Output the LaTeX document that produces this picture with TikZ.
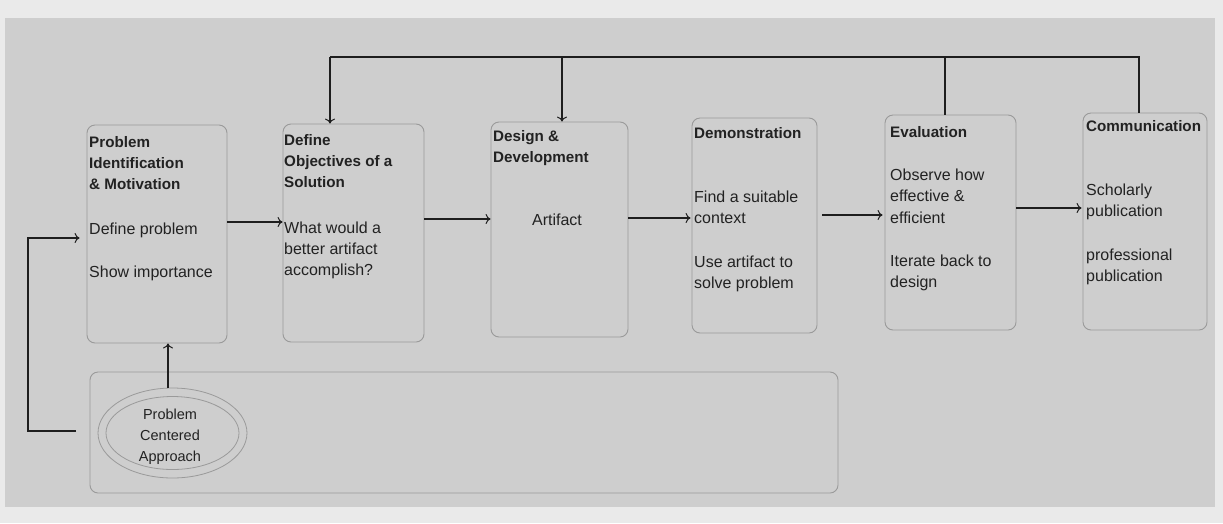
\documentclass[tikz,border=0pt]{standalone}
\usepackage{fontspec}
\setmainfont{Liberation Sans}
\usetikzlibrary{arrows.meta,shapes.geometric}

\definecolor{paper}{HTML}{EAEAEA}
\definecolor{panel}{HTML}{CECECE}
\definecolor{rim}{HTML}{9A9A9A}
\definecolor{ink}{HTML}{1E1E1E}
\definecolor{txtc}{HTML}{222222}

% bold stage heading
\newcommand\hd[1]{{\fontsize{15.2}{21}\selectfont\bfseries #1}}

\tikzset{
  stage/.style={draw=rim, line width=0.9pt, rounded corners=8pt, inner sep=0pt},
  txt/.style={inner sep=0pt, align=left, text=txtc, anchor=north west,
              font=\fontsize{16}{21.3}\selectfont},
  wire/.style={draw=ink, line width=1.1pt},
  flow/.style={wire, -{To[length=5pt,width=10pt,line width=1pt]}},
  oval/.style={ellipse, draw=rim, line width=0.8pt, inner sep=0pt},
}

\begin{document}
\begin{tikzpicture}[x=1pt,y=-1pt]
  % page and grey panel
  \fill[paper] (0,0) rectangle (1223,523);
  \fill[panel] (5,18) rectangle (1215,507);
  \useasboundingbox (0,0) rectangle (1223,523);

  % six stage boxes
  \node[stage, minimum width=140pt, minimum height=218pt] (b1) at (157,234) {};
  \node[stage, minimum width=141pt, minimum height=218pt] (b2) at (353.5,233) {};
  \node[stage, minimum width=137pt, minimum height=215pt] (b3) at (559.5,229.5) {};
  \node[stage, minimum width=125pt, minimum height=215pt] (b4) at (754.5,225.5) {};
  \node[stage, minimum width=131pt, minimum height=215pt] (b5) at (950.5,222.5) {};
  \node[stage, minimum width=124pt, minimum height=217pt] (b6) at (1145,221.5) {};

  % box contents
  \node[txt] (t1) at (89,136) {\hd{Problem}\\\hd{Identification}\\\hd{\& Motivation}\\[23pt]Define problem\\[22pt]Show importance};
  \node[txt] (t2) at (284,134) {\hd{Define}\\\hd{Objectives of a}\\\hd{Solution}\\[24pt]What would a\\better artifact\\accomplish?};
  \node[txt] (t3) at (493,130) {\hd{Design \&}\\\hd{Development}};
  \node[txt, anchor=center] (t3b) at (557,220) {Artifact};
  \node[txt] (t4) at (694,127) {\hd{Demonstration}\\[43pt]Find a suitable\\context\\[22pt]Use artifact to\\solve problem};
  \node[txt] (t5) at (890,126) {\hd{Evaluation}\\[22pt]Observe how\\effective \&\\efficient\\[22pt]Iterate back to\\design};
  \node[txt] (t6) at (1086,120) {\hd{Communication}\\[43pt]Scholarly\\publication\\[22pt]professional\\publication};

  % lower panel with the double ellipse
  \node[stage, minimum width=748pt, minimum height=121pt] (cont) at (464,432.5) {};
  \node[oval, minimum width=149pt, minimum height=90pt] (pca) at (172.5,433) {};
  \node[oval, minimum width=133pt, minimum height=73pt, text=txtc] (pcaIn) at (172.5,433) {};
  \node[align=center, text=txtc, inner sep=0pt,
        font=\fontsize{14.5}{21}\selectfont] (pcaTxt) at (170,437)
        {Problem\\Centered\\Approach};

  % forward flow between stages
  \draw[flow] (b1.east |- 0,222) -- (b2.west |- 0,222);
  \draw[flow] (b2.east |- 0,219) -- (b3.west |- 0,219);
  \draw[flow] (b3.east |- 0,218) -- ([xshift=-1pt]b4.west |- 0,218);
  \draw[flow] ([xshift=5pt]b4.east |- 0,215) -- ([xshift=-2pt]b5.west |- 0,215);
  \draw[flow] (b5.east |- 0,208) -- ([xshift=-1pt]b6.west |- 0,208);

  % feedback along the top
  \coordinate (fbL) at (330,57);
  \coordinate (fbM) at (562,57);
  \coordinate (fbE) at (945,57);
  \coordinate (fbR) at (1139,57);
  \draw[wire] (b6.north -| fbR) -- (fbR) -- (fbL);
  \draw[wire] (b5.north -| fbE) -- (fbE);
  \draw[flow] (fbL) -- (b2.north -| fbL);
  \draw[flow] (fbM) -- (b3.north -| fbM);

  % approach feeds the first stage
  \coordinate (up) at (168,0);
  \draw[flow] (pca.north -| up) -- (b1.south -| up);
  \coordinate (loopStart) at (76,431);
  \draw[flow, shorten >=7pt] (loopStart) -- (28,431) -- (28,238) -- (b1.west |- 0,238);
\end{tikzpicture}
\end{document}
